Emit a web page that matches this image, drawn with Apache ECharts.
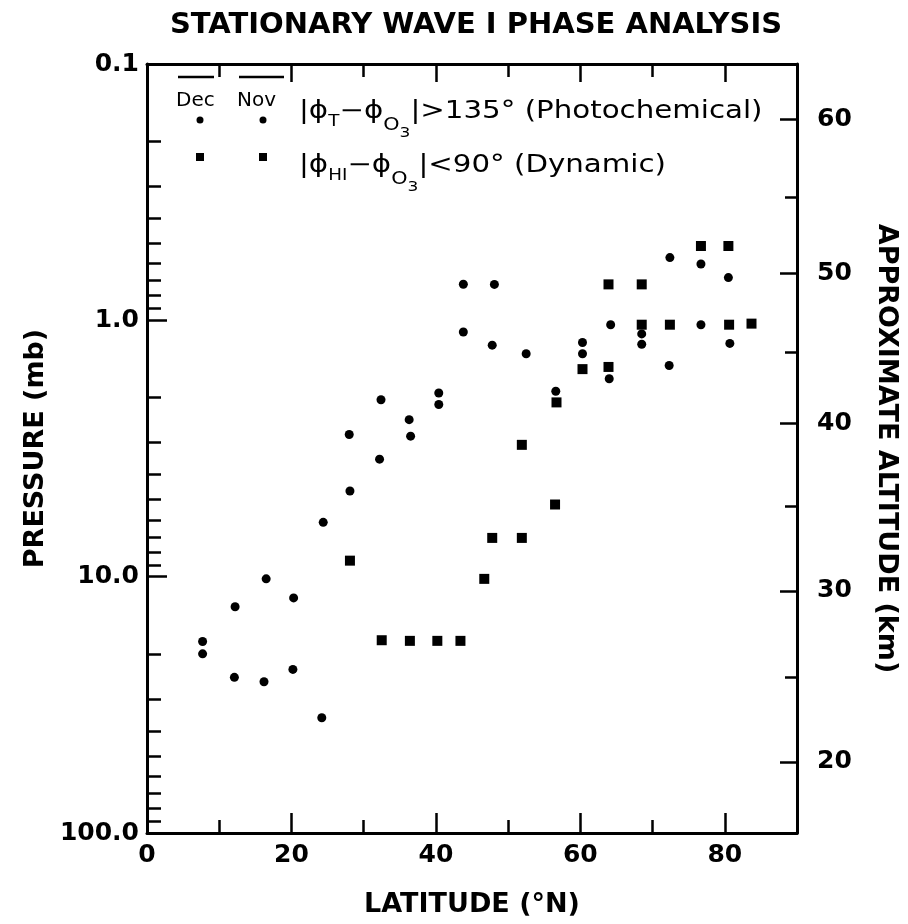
<!DOCTYPE html>
<html><head><meta charset="utf-8">
<script src="https://cdn.jsdelivr.net/npm/echarts@6/dist/echarts.min.js"></script>
<style>html,body{margin:0;padding:0;background:#fff}#c{width:908px;height:924px}</style>
</head><body><div id="c"></div>
<script>
const FONT = 'DejaVu Sans';
const INK = '#000';

// |phiT - phiO3| > 135 deg (Photochemical): latitude (deg N) and pressure (mb)
const photoLat = [7.7, 7.7, 12.1, 12.2, 16.2, 16.5, 20.2, 20.3, 24.2, 24.4, 28.1, 28.0, 32.2, 32.4, 36.3, 36.5, 40.4, 40.4, 43.8, 43.8, 48.1, 47.8, 52.5, 56.6, 60.3, 60.3, 64.2, 64.0, 68.5, 68.5, 72.4, 72.3, 76.7, 76.7, 80.5, 80.7];
const photoP   = [17.9, 20.0, 24.7, 13.1, 25.7, 10.2, 23.0, 12.1, 35.5, 6.14, 4.63, 2.79, 3.48, 2.04, 2.44, 2.83, 1.92, 2.13, 0.723, 1.11, 0.724, 1.25, 1.35, 1.89, 1.22, 1.35, 1.04, 1.69, 1.13, 1.24, 0.569, 1.50, 0.603, 1.04, 0.681, 1.23];

// |phiHI - phiO3| < 90 deg (Dynamic)
const dynLat = [28.1, 32.5, 36.4, 40.2, 43.4, 46.7, 47.8, 51.9, 51.9, 56.5, 56.7, 60.3, 63.9, 63.9, 68.5, 68.5, 72.4, 76.7, 80.5, 80.6, 83.7];
const dynP   = [8.66, 17.7, 17.8, 17.8, 17.8, 10.2, 7.06, 7.06, 3.06, 5.23, 2.09, 1.55, 1.52, 0.724, 0.724, 1.04, 1.04, 0.513, 0.513, 1.04, 1.03];

// axis ticks / labels
const xLabelValues = [0, 20, 40, 60, 80];
const xMinorTicks = [10, 30, 50, 70];
const pLabelValues = [0.1, 1, 10, 100];
const pLabelText = ['0.1', '1.0', '10.0', '100.0'];
const pMinorTicks = [0.2,0.3,0.4,0.5,0.6,0.7,0.8,0.9, 2,3,4,5,6,7,8,9, 20,30,40,50,60,70,80,90];
const altMajor = [20, 30, 40, 50, 60];
const altMajorP = [52.8, 11.35, 2.52, 0.657, 0.165];
const altMinor = [25, 35, 45, 55];
const altMinorP = [24.6, 5.33, 1.33, 0.331];

const P_MIN = 0.1, P_MAX = 100;
const LOG_MIN = Math.log10(P_MIN), LOG_MAX = Math.log10(P_MAX);

const lineStyle = { color: INK, width: 3 };
const tickStyle = { color: INK, width: 2.5 };
const labelFont = { color: INK, fontFamily: FONT, fontSize: 25, fontWeight: 'bold' };
const nameFont = { color: INK, fontFamily: FONT, fontSize: 27, fontWeight: 'bold' };

function lookupLabel(vals, texts, v, log) {
  for (let i = 0; i < vals.length; i++) {
    const a = log ? Math.log10(vals[i]) : vals[i];
    if (Math.abs(a - v) < 1e-6 * Math.max(1, Math.abs(a))) return texts[i];
  }
  return '';
}

const chart = echarts.init(document.getElementById('c'), null, { renderer: 'canvas' });

const baseX = { type: 'value', min: 0, max: 90, gridIndex: 0, splitLine: { show: false } };
const baseLogSpace = { type: 'value', min: LOG_MIN, max: LOG_MAX, inverse: true, splitLine: { show: false } };

const legendRich = {
  b: { fontSize: 24, fontFamily: FONT, fill: INK },
  s: { fontSize: 15, fontFamily: FONT, fill: INK, padding: [20, 0, 0, 0] },
  o: { fontSize: 17, fontFamily: FONT, fill: INK, padding: [28, 0, 0, 0] },
  ss: { fontSize: 14, fontFamily: FONT, fill: INK, padding: [42, 0, 0, 0] }
};

const option = {
  backgroundColor: '#fff',
  animation: false,
  grid: { left: 147, right: 111, top: 64, bottom: 91, containLabel: false },
  graphic: [
    { type: 'text', x: 476, y: 25, style: { text: 'STATIONARY WAVE I PHASE ANALYSIS', fill: INK, font: 'bold 29px "DejaVu Sans"', textAlign: 'center', textVerticalAlign: 'middle' } },
    // legend headers
    { type: 'text', x: 176, y: 101, style: { text: 'Dec', fill: INK, font: '20px "DejaVu Sans"', textAlign: 'left', textVerticalAlign: 'middle' } },
    { type: 'text', x: 237, y: 101, style: { text: 'Nov', fill: INK, font: '20px "DejaVu Sans"', textAlign: 'left', textVerticalAlign: 'middle' } },
    { type: 'line', shape: { x1: 178, y1: 77, x2: 214, y2: 77 }, style: { stroke: INK, lineWidth: 2.5 } },
    { type: 'line', shape: { x1: 239, y1: 77, x2: 284, y2: 77 }, style: { stroke: INK, lineWidth: 2.5 } },
    // legend markers
    { type: 'circle', shape: { cx: 200, cy: 120, r: 3.5 }, style: { fill: INK } },
    { type: 'circle', shape: { cx: 263, cy: 120, r: 3.5 }, style: { fill: INK } },
    { type: 'rect', shape: { x: 196, y: 153, width: 8, height: 8 }, style: { fill: INK } },
    { type: 'rect', shape: { x: 259, y: 153, width: 8, height: 8 }, style: { fill: INK } },
    // legend texts
    { type: 'text', x: 299, y: 112, scaleX: 1.22, style: {
        text: '{b||ϕ}{s|T}{b|−ϕ}{o|O}{ss|3}{b||>135° (Photochemical)}',
        textAlign: 'left', textVerticalAlign: 'middle', rich: legendRich } },
    { type: 'text', x: 299, y: 166, scaleX: 1.22, style: {
        text: '{b||ϕ}{s|HI}{b|−ϕ}{o|O}{ss|3}{b||<90° (Dynamic)}',
        textAlign: 'left', textVerticalAlign: 'middle', rich: legendRich } }
  ],
  xAxis: [
    Object.assign({}, baseX, {
      position: 'bottom',
      name: 'LATITUDE (°N)', nameLocation: 'middle', nameGap: 58,
      nameTextStyle: nameFont,
      axisLine: { show: true, onZero: false, lineStyle: lineStyle },
      axisTick: { show: true, inside: true, length: 20, lineStyle: tickStyle, customValues: xLabelValues },
      axisLabel: Object.assign({ show: true, margin: 10, customValues: xLabelValues }, labelFont)
    }),
    Object.assign({}, baseX, {
      position: 'bottom',
      axisLine: { show: false, onZero: false },
      axisTick: { show: true, inside: true, length: 13, lineStyle: tickStyle, customValues: xMinorTicks },
      axisLabel: { show: false }
    }),
    Object.assign({}, baseX, {
      position: 'top',
      axisLine: { show: true, onZero: false, lineStyle: lineStyle },
      axisTick: { show: true, inside: true, length: 18, lineStyle: tickStyle, customValues: xLabelValues },
      axisLabel: { show: false }
    }),
    Object.assign({}, baseX, {
      position: 'top',
      axisLine: { show: false, onZero: false },
      axisTick: { show: true, inside: true, length: 13, lineStyle: tickStyle, customValues: xMinorTicks },
      axisLabel: { show: false }
    })
  ],
  yAxis: [
    {
      type: 'log', logBase: 10, min: P_MIN, max: P_MAX, inverse: true, splitNumber: 3,
      position: 'left',
      name: 'PRESSURE (mb)', nameLocation: 'middle', nameGap: 90, nameRotate: 90,
      nameTextStyle: nameFont,
      splitLine: { show: false },
      axisLine: { show: true, onZero: false, lineStyle: lineStyle },
      axisTick: { show: true, inside: true, length: 20, lineStyle: tickStyle },
      axisLabel: Object.assign({ show: true, margin: 8,
        formatter: function (v) { return lookupLabel(pLabelValues, pLabelText, v, false); } }, labelFont)
    },
    Object.assign({}, baseLogSpace, {
      position: 'left',
      axisLine: { show: false, onZero: false },
      axisTick: { show: true, inside: true, length: 14, lineStyle: tickStyle, customValues: pMinorTicks.map(Math.log10) },
      axisLabel: { show: false }
    }),
    Object.assign({}, baseLogSpace, {
      position: 'right',
      name: 'APPROXIMATE ALTITUDE (km)', nameLocation: 'middle', nameGap: 76, nameRotate: -90,
      nameTextStyle: nameFont,
      axisLine: { show: true, onZero: false, lineStyle: lineStyle },
      axisTick: { show: true, inside: true, length: 17, lineStyle: tickStyle, customValues: altMajorP.map(Math.log10) },
      axisLabel: Object.assign({ show: true, margin: 20, customValues: altMajorP.map(Math.log10),
        formatter: function (v) { return lookupLabel(altMajorP, altMajor.map(String), v, true); } }, labelFont)
    }),
    Object.assign({}, baseLogSpace, {
      position: 'right',
      axisLine: { show: false, onZero: false },
      axisTick: { show: true, inside: true, length: 12, lineStyle: tickStyle, customValues: altMinorP.map(Math.log10) },
      axisLabel: { show: false }
    })
  ],
  series: [
    {
      name: 'Photochemical', type: 'scatter', xAxisIndex: 0, yAxisIndex: 0,
      symbol: 'circle', symbolSize: 9, itemStyle: { color: INK, opacity: 1 },
      data: photoLat.map(function (x, i) { return [x, photoP[i]]; })
    },
    {
      name: 'Dynamic', type: 'scatter', xAxisIndex: 0, yAxisIndex: 0,
      symbol: 'rect', symbolSize: 10, itemStyle: { color: INK, opacity: 1 },
      data: dynLat.map(function (x, i) { return [x, dynP[i]]; })
    }
  ]
};
chart.setOption(option);
</script>
</body></html>
